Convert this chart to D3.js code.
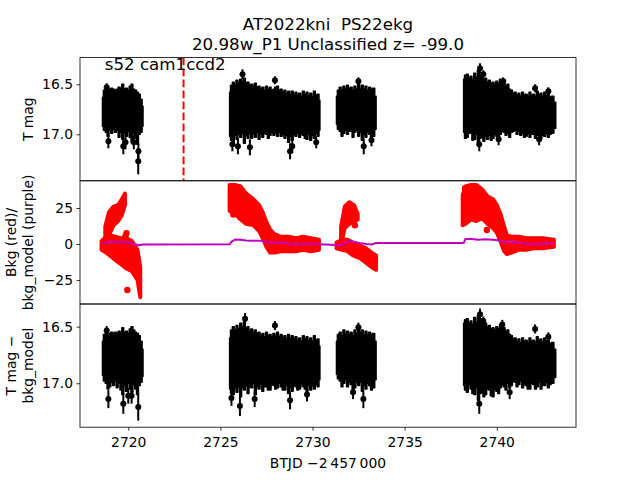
<!DOCTYPE html>
<html>
<head>
<meta charset="utf-8">
<script src="https://cdn.jsdelivr.net/npm/d3@7"></script>
<style>
  body { margin: 0; background: #fff; }
  svg text { font-family: "DejaVu Sans", sans-serif; fill: #000; white-space: pre; }
</style>
</head>
<body>
<svg id="lightcurve" width="640" height="480"></svg>
<script>
// ---- values ----
const titleLines = ["AT2022kni  PS22ekg", "20.98w_P1 Unclassified z= -99.0"];
const sectorLabel = "s52 cam1ccd2";
const xTicks = [2720, 2725, 2730, 2735, 2740];
const magTicks = [16.5, 17.0];
const bkgTicks = [25, 0, -25];
const markTime = 2723.0;

// T mag clouds, [btjd, bright edge, faint edge]
const magTopA = [
  [2718.6, 16.63, 16.92], [2718.7, 16.56, 16.96], [2718.8, 16.52, 16.98], [2718.9, 16.55, 17.02],
  [2719.0, 16.55, 16.96], [2719.1, 16.54, 16.99], [2719.2, 16.55, 16.95], [2719.3, 16.56, 16.98],
  [2719.4, 16.55, 16.96], [2719.5, 16.53, 17.03], [2719.6, 16.54, 16.98], [2719.7, 16.50, 17.05],
  [2719.8, 16.55, 16.99], [2719.9, 16.54, 17.02], [2720.0, 16.56, 16.97], [2720.1, 16.52, 17.03],
  [2720.2, 16.50, 17.08], [2720.3, 16.55, 16.99], [2720.4, 16.56, 17.04], [2720.5, 16.58, 17.10],
  [2720.6, 16.60, 17.00], [2720.7, 16.65, 16.98], [2720.8, 16.72, 16.92]
];
const magTopB = [
  [2725.5, 16.58, 17.02], [2725.6, 16.51, 17.06], [2725.7, 16.48, 17.08], [2725.8, 16.50, 17.01],
  [2725.9, 16.46, 17.05], [2726.0, 16.49, 17.00], [2726.1, 16.45, 17.03], [2726.2, 16.47, 16.99],
  [2726.3, 16.44, 17.09], [2726.4, 16.48, 17.01], [2726.5, 16.48, 17.04], [2726.6, 16.51, 16.99],
  [2726.7, 16.50, 17.04], [2726.8, 16.52, 17.00], [2726.9, 16.49, 17.03], [2727.0, 16.53, 16.98],
  [2727.1, 16.52, 17.05], [2727.2, 16.55, 17.00], [2727.3, 16.53, 17.03], [2727.4, 16.56, 16.99],
  [2727.5, 16.52, 17.00], [2727.6, 16.55, 17.04], [2727.7, 16.53, 17.01], [2727.8, 16.56, 16.98],
  [2727.9, 16.55, 17.01], [2728.0, 16.53, 16.99], [2728.1, 16.52, 17.02], [2728.2, 16.56, 16.98],
  [2728.3, 16.55, 17.02], [2728.4, 16.58, 17.00], [2728.5, 16.56, 17.04], [2728.6, 16.59, 17.01],
  [2728.7, 16.57, 17.08], [2728.8, 16.60, 17.02], [2728.9, 16.57, 17.06], [2729.0, 16.60, 17.00],
  [2729.1, 16.58, 17.02], [2729.2, 16.61, 16.99], [2729.3, 16.59, 17.03], [2729.4, 16.62, 17.00],
  [2729.5, 16.57, 17.01], [2729.6, 16.60, 17.04], [2729.7, 16.58, 17.05], [2729.8, 16.61, 17.00],
  [2729.9, 16.59, 17.06], [2730.0, 16.62, 17.01], [2730.1, 16.57, 17.04], [2730.2, 16.61, 16.99],
  [2730.3, 16.60, 17.02], [2730.4, 16.66, 16.96]
];
const magTopC = [
  [2731.3, 16.62, 16.90], [2731.4, 16.56, 16.95], [2731.5, 16.53, 16.97], [2731.6, 16.56, 17.02],
  [2731.7, 16.52, 16.99], [2731.8, 16.55, 16.96], [2731.9, 16.51, 17.00], [2732.0, 16.54, 16.97],
  [2732.1, 16.53, 16.97], [2732.2, 16.56, 17.03], [2732.3, 16.52, 16.98], [2732.4, 16.55, 16.96],
  [2732.5, 16.49, 17.02], [2732.6, 16.54, 16.98], [2732.7, 16.51, 17.06], [2732.8, 16.55, 17.00],
  [2732.9, 16.52, 17.03], [2733.0, 16.56, 16.98], [2733.1, 16.53, 17.00], [2733.2, 16.55, 17.04],
  [2733.3, 16.54, 17.02], [2733.45, 16.62, 16.95]
];
const magTopD = [
  [2738.2, 16.45, 16.98], [2738.3, 16.41, 17.04], [2738.4, 16.40, 17.03], [2738.5, 16.44, 16.99],
  [2738.6, 16.42, 16.99], [2738.7, 16.45, 17.06], [2738.8, 16.39, 17.05], [2738.9, 16.43, 17.00],
  [2739.0, 16.36, 17.08], [2739.1, 16.41, 17.04], [2739.2, 16.40, 17.03], [2739.3, 16.45, 17.07],
  [2739.4, 16.44, 17.02], [2739.5, 16.48, 17.05], [2739.6, 16.46, 17.01], [2739.7, 16.49, 17.06],
  [2739.8, 16.48, 17.04], [2739.9, 16.50, 17.00], [2740.0, 16.47, 17.02], [2740.1, 16.49, 17.05],
  [2740.2, 16.45, 17.00], [2740.3, 16.49, 16.97], [2740.4, 16.48, 16.98], [2740.5, 16.52, 17.01],
  [2740.6, 16.50, 16.99], [2740.7, 16.55, 17.03], [2740.8, 16.56, 16.98], [2740.9, 16.59, 16.97],
  [2741.0, 16.58, 16.96], [2741.1, 16.61, 17.00], [2741.2, 16.59, 16.97], [2741.3, 16.62, 17.01],
  [2741.4, 16.58, 16.99], [2741.5, 16.61, 17.03], [2741.6, 16.60, 17.02], [2741.7, 16.62, 16.99],
  [2741.8, 16.58, 17.03], [2741.9, 16.61, 17.00], [2742.0, 16.60, 17.00], [2742.1, 16.62, 17.04],
  [2742.2, 16.57, 17.01], [2742.3, 16.60, 16.98], [2742.4, 16.59, 17.04], [2742.5, 16.62, 17.01],
  [2742.6, 16.58, 17.02], [2742.7, 16.61, 16.99], [2742.8, 16.60, 17.03], [2742.9, 16.63, 17.00],
  [2743.0, 16.62, 16.99], [2743.2, 16.68, 16.94]
];
// single points standing out of the clouds, [btjd, mag, err]
const magTopPoints = [
  [2718.83, 16.53, 0.04], [2718.92, 17.07, 0.07], [2719.73, 17.12, 0.08], [2719.85, 17.08, 0.07],
  [2720.3, 17.08, 0.07], [2720.54, 17.27, 0.13], [2720.55, 17.17, 0.08],
  [2725.65, 17.10, 0.07], [2725.95, 17.12, 0.08], [2726.2, 16.40, 0.05], [2726.6, 17.13, 0.08],
  [2727.96, 16.46, 0.04], [2728.78, 17.17, 0.08], [2728.9, 17.12, 0.07], [2730.2, 17.08, 0.06],
  [2732.49, 16.47, 0.04], [2732.78, 17.12, 0.08], [2733.2, 17.06, 0.06],
  [2739.09, 16.34, 0.05], [2739.27, 16.40, 0.04], [2739.05, 17.10, 0.07], [2740.1, 17.05, 0.06],
  [2740.35, 16.47, 0.04], [2742.08, 16.54, 0.04], [2742.8, 16.57, 0.04], [2742.3, 17.05, 0.06]
];

// background flux clouds, [btjd, upper edge, lower edge]
const bkgA = [
  [2718.55, 2, -4], [2718.8, 5, -6], [2719.0, 6, -8], [2719.3, 5, -11], [2719.6, 4, -14],
  [2719.9, 4, -17], [2720.2, 2, -19], [2720.5, -4, -25], [2720.65, -16, -37]
];
const bkgAFlare = [
  [2718.75, 12, 0], [2718.95, 22, 6], [2719.2, 26, 13], [2719.45, 27, 16], [2719.65, 31, 20], [2719.82, 35, 27]
];
const bkgB = [
  [2725.5, 41, 23], [2725.8, 41, 21], [2726.1, 40, 17], [2726.4, 35, 14], [2726.8, 31, 13],
  [2727.1, 27, 9], [2727.3, 22, 4], [2727.5, 15, -2], [2727.7, 10, -6], [2727.9, 7, -6],
  [2728.3, 5, -5], [2728.7, 5, -5], [2729.1, 4, -5], [2729.5, 5, -4], [2729.9, 4, -5], [2730.35, 3, -4]
];
const bkgC = [
  [2731.3, 1, -3], [2731.6, 3, -4], [2731.9, 3, -5], [2732.2, 1, -8], [2732.6, -1, -10],
  [2732.9, -3, -13], [2733.2, -6, -16], [2733.45, -8, -18]
];
const bkgCFlare = [
  [2731.55, 12, 0], [2731.75, 26, 11], [2732.0, 29, 14], [2732.25, 27, 16], [2732.45, 21, 17]
];
const bkgD = [
  [2738.15, 34, 13], [2738.3, 40, 14], [2738.6, 41, 17], [2738.9, 41, 16], [2739.2, 38, 18],
  [2739.5, 33, 14], [2739.8, 31, 11], [2740.0, 27, 8], [2740.2, 21, 2], [2740.4, 12, -5],
  [2740.55, 6, -7], [2740.8, 5, -6], [2741.2, 5, -4], [2741.6, 4, -4], [2742.0, 4, -3],
  [2742.5, 4, -3], [2743.1, 3, -2]
];
const bkgPoints = [
  [2719.9, 7.5], [2719.85, 5.5], [2719.95, -32], [2725.7, 20.5], [2732.3, 13],
  [2738.28, 38.7], [2739.46, 9.7]
];

// bkg_model curve, [btjd, value]
const modelA = [
  [2718.6, 0.3], [2718.9, 1.2], [2719.2, 1.6], [2719.6, 1.3], [2720.0, 0.9], [2720.3, 0.2],
  [2720.55, -0.8], [2720.8, -0.3]
];
const modelB = [
  [2725.5, -0.2], [2725.6, 1.5], [2725.8, 3.1], [2726.1, 3.0], [2726.4, 2.4], [2726.8, 2.2],
  [2727.2, 2.3], [2727.5, 1.4], [2727.7, 0.8], [2728.0, 0.9], [2728.3, 1.2], [2728.6, 0.5],
  [2728.9, -0.6], [2729.2, 0.0], [2729.6, 0.1], [2730.0, 0.1], [2730.4, -0.2]
];
const modelC = [
  [2731.3, -0.7], [2731.6, -0.5], [2731.8, 0.8], [2732.0, 2.1], [2732.3, 1.4], [2732.6, 0.6],
  [2732.95, 0.0], [2733.2, -0.3], [2733.45, 0.7]
];
const modelD = [
  [2738.2, 0.7], [2738.3, 3.4], [2738.6, 3.5], [2739.0, 3.0], [2739.4, 3.3], [2739.8, 2.9],
  [2740.2, 2.4], [2740.5, 1.4], [2741.0, 1.4], [2741.4, 0.6], [2741.7, -0.2], [2742.2, 0.0],
  [2742.7, 0.4], [2743.1, 0.3]
];

// T mag - bkg_model clouds, [btjd, bright edge, faint edge]
const magBotA = [
  [2718.6, 16.63, 16.93], [2718.7, 16.57, 16.98], [2718.8, 16.55, 17.00], [2718.9, 16.57, 17.05],
  [2719.0, 16.56, 17.03], [2719.1, 16.55, 16.99], [2719.2, 16.56, 17.02], [2719.3, 16.55, 16.98],
  [2719.4, 16.56, 17.04], [2719.5, 16.54, 17.00], [2719.6, 16.55, 17.06], [2719.7, 16.51, 17.10],
  [2719.8, 16.55, 17.02], [2719.9, 16.54, 17.07], [2720.0, 16.56, 17.00], [2720.1, 16.52, 17.05],
  [2720.2, 16.50, 17.08], [2720.3, 16.53, 17.01], [2720.4, 16.55, 17.05], [2720.5, 16.56, 17.10],
  [2720.6, 16.58, 17.02], [2720.7, 16.63, 16.99], [2720.8, 16.70, 16.94]
];
const magBotB = [
  [2725.5, 16.60, 17.05], [2725.6, 16.53, 17.09], [2725.7, 16.50, 17.10], [2725.8, 16.53, 17.04],
  [2725.9, 16.49, 17.08], [2726.0, 16.52, 17.03], [2726.1, 16.47, 17.12], [2726.2, 16.50, 17.04],
  [2726.3, 16.46, 17.06], [2726.4, 16.51, 17.02], [2726.5, 16.50, 17.09], [2726.6, 16.54, 17.03],
  [2726.7, 16.52, 17.04], [2726.8, 16.55, 17.00], [2726.9, 16.53, 17.10], [2727.0, 16.56, 17.03],
  [2727.1, 16.55, 17.05], [2727.2, 16.58, 17.01], [2727.3, 16.56, 17.07], [2727.4, 16.59, 17.03],
  [2727.5, 16.55, 17.03], [2727.6, 16.58, 17.06], [2727.7, 16.57, 17.06], [2727.8, 16.59, 17.01],
  [2727.9, 16.56, 17.02], [2728.0, 16.58, 17.05], [2728.1, 16.55, 17.04], [2728.2, 16.59, 17.00],
  [2728.3, 16.57, 17.03], [2728.4, 16.60, 17.06], [2728.5, 16.58, 17.06], [2728.6, 16.61, 17.02],
  [2728.7, 16.57, 17.09], [2728.8, 16.60, 17.04], [2728.9, 16.58, 17.07], [2729.0, 16.61, 17.02],
  [2729.1, 16.59, 17.03], [2729.2, 16.62, 17.06], [2729.3, 16.60, 17.05], [2729.4, 16.63, 17.01],
  [2729.5, 16.58, 17.03], [2729.6, 16.61, 17.05], [2729.7, 16.59, 17.08], [2729.8, 16.62, 17.02],
  [2729.9, 16.60, 17.06], [2730.0, 16.63, 17.02], [2730.1, 16.58, 17.05], [2730.2, 16.62, 17.01],
  [2730.3, 16.61, 17.03], [2730.4, 16.67, 16.97]
];
const magBotC = [
  [2731.3, 16.63, 16.92], [2731.4, 16.57, 16.96], [2731.5, 16.55, 16.98], [2731.6, 16.58, 17.03],
  [2731.7, 16.53, 17.00], [2731.8, 16.56, 16.97], [2731.9, 16.54, 17.03], [2732.0, 16.57, 16.99],
  [2732.1, 16.55, 17.01], [2732.2, 16.58, 17.06], [2732.3, 16.53, 17.04], [2732.4, 16.56, 16.99],
  [2732.5, 16.51, 17.02], [2732.6, 16.55, 16.99], [2732.7, 16.53, 17.07], [2732.8, 16.57, 17.02],
  [2732.9, 16.54, 17.05], [2733.0, 16.57, 17.00], [2733.1, 16.55, 17.02], [2733.2, 16.57, 17.06],
  [2733.3, 16.56, 17.04], [2733.45, 16.63, 16.97]
];
const magBotD = [
  [2738.2, 16.47, 17.02], [2738.3, 16.44, 17.06], [2738.4, 16.43, 17.08], [2738.5, 16.47, 17.01],
  [2738.6, 16.45, 17.05], [2738.7, 16.48, 17.09], [2738.8, 16.42, 17.10], [2738.9, 16.46, 17.04],
  [2739.0, 16.40, 17.15], [2739.1, 16.44, 17.09], [2739.2, 16.43, 17.08], [2739.3, 16.47, 17.12],
  [2739.4, 16.47, 17.10], [2739.5, 16.50, 17.05], [2739.6, 16.49, 17.06], [2739.7, 16.52, 17.11],
  [2739.8, 16.51, 17.12], [2739.9, 16.53, 17.05], [2740.0, 16.50, 17.07], [2740.1, 16.52, 17.09],
  [2740.2, 16.48, 17.04], [2740.3, 16.51, 17.01], [2740.4, 16.51, 17.03], [2740.5, 16.54, 17.06],
  [2740.6, 16.53, 17.00], [2740.7, 16.57, 17.04], [2740.8, 16.58, 17.02], [2740.9, 16.61, 16.98],
  [2741.0, 16.60, 16.99], [2741.1, 16.63, 17.03], [2741.2, 16.61, 17.01], [2741.3, 16.64, 16.98],
  [2741.4, 16.60, 17.04], [2741.5, 16.63, 17.01], [2741.6, 16.62, 17.02], [2741.7, 16.64, 17.05],
  [2741.8, 16.60, 17.05], [2741.9, 16.63, 17.00], [2742.0, 16.62, 17.01], [2742.1, 16.64, 17.05],
  [2742.2, 16.59, 17.03], [2742.3, 16.62, 16.99], [2742.4, 16.61, 17.05], [2742.5, 16.64, 17.02],
  [2742.6, 16.60, 17.02], [2742.7, 16.63, 16.99], [2742.8, 16.62, 17.04], [2742.9, 16.65, 17.01],
  [2743.0, 16.64, 17.00], [2743.2, 16.70, 16.95]
];
const magBotPoints = [
  [2718.83, 16.535, 0.04], [2718.92, 17.14, 0.08], [2719.73, 17.18, 0.09], [2720.18, 17.11, 0.07],
  [2720.54, 17.21, 0.12], [2720.0, 17.11, 0.07],
  [2725.6, 17.13, 0.07], [2726.06, 17.20, 0.09], [2726.34, 16.43, 0.05], [2726.86, 17.14, 0.07],
  [2727.96, 16.49, 0.04], [2728.78, 17.15, 0.08], [2729.7, 17.10, 0.06],
  [2732.49, 16.505, 0.04], [2732.76, 17.14, 0.08], [2732.2, 17.08, 0.06],
  [2739.09, 16.39, 0.05], [2739.05, 17.18, 0.09], [2739.27, 16.45, 0.04], [2740.3, 16.48, 0.04],
  [2742.08, 16.52, 0.04], [2742.8, 16.59, 0.04], [2740.7, 17.08, 0.06]
];

// ---- drawing ----
const svg = d3.select("#lightcurve");
const left = 80, right = 576;
const panelTop = [57.6, 180.8, 304];
const panelH = 123.2;

const x = d3.scaleLinear().domain([2717.38, 2744.30]).range([left, right]);
const yTop = d3.scaleLinear().domain([16.233, 17.465]).range([panelTop[0], panelTop[0] + panelH]);
const yMid = d3.scaleLinear().domain([43.9, -41.7]).range([panelTop[1], panelTop[1] + panelH]);
const yBot = d3.scaleLinear().domain([16.30, 17.388]).range([panelTop[2], panelTop[2] + panelH]);

function cloud(y, rows, colour, width, curve) {
  svg.append("path")
    .datum(rows)
    .attr("d", d3.area().curve(curve).x(d => x(d[0])).y0(d => y(d[2])).y1(d => y(d[1])))
    .attr("fill", colour)
    .attr("stroke", colour)
    .attr("stroke-width", width)
    .attr("stroke-linejoin", "round");
}

function errPoints(y, rows) {
  let g = svg.append("g");
  g.selectAll("line").data(rows).enter().append("line")
    .attr("x1", d => x(d[0])).attr("x2", d => x(d[0]))
    .attr("y1", d => y(d[1] - d[2])).attr("y2", d => y(d[1] + d[2]))
    .attr("stroke", "black").attr("stroke-width", 2);
  g.selectAll("circle").data(rows).enter().append("circle")
    .attr("cx", d => x(d[0])).attr("cy", d => y(d[1])).attr("r", 3)
    .attr("fill", "black");
}

// top panel
[magTopA, magTopB, magTopC, magTopD].forEach(s => cloud(yTop, s, "black", 1.5, d3.curveStep));
errPoints(yTop, magTopPoints);
svg.append("line")
  .attr("x1", x(markTime)).attr("x2", x(markTime))
  .attr("y1", panelTop[0]).attr("y2", panelTop[0] + panelH)
  .attr("stroke", "red").attr("stroke-width", 2).attr("stroke-dasharray", "7.7,3.3");

// middle panel
[bkgA, bkgAFlare, bkgB, bkgC, bkgCFlare, bkgD].forEach(s => cloud(yMid, s, "red", 4, d3.curveLinear));
svg.append("g").selectAll("circle").data(bkgPoints).enter().append("circle")
  .attr("cx", d => x(d[0])).attr("cy", d => yMid(d[1])).attr("r", 3.2).attr("fill", "red");
svg.append("path")
  .datum(modelA.concat(modelB, modelC, modelD))
  .attr("d", d3.line().x(d => x(d[0])).y(d => yMid(d[1])))
  .attr("fill", "none").attr("stroke", "#bf00bf").attr("stroke-width", 2);

// bottom panel
[magBotA, magBotB, magBotC, magBotD].forEach(s => cloud(yBot, s, "black", 1.5, d3.curveStep));
errPoints(yBot, magBotPoints);

// axes
function yAxis(y, ticks, fmt) {
  let g = svg.append("g")
    .attr("transform", "translate(" + left + ",0)")
    .call(d3.axisLeft(y).tickValues(ticks).tickSize(3.5).tickPadding(3.5).tickSizeOuter(0).tickFormat(fmt))
    .attr("font-family", "DejaVu Sans").attr("font-size", 13.9);
  g.select(".domain").remove();
  g.selectAll("line").attr("stroke-width", 0.8);
}
yAxis(yTop, magTicks, d3.format(".1f"));
yAxis(yMid, bkgTicks, d => d < 0 ? "\u2212" + Math.abs(d) : d);
yAxis(yBot, magTicks, d3.format(".1f"));

let xg = svg.append("g")
  .attr("transform", "translate(0," + (panelTop[2] + panelH) + ")")
  .call(d3.axisBottom(x).tickValues(xTicks).tickSize(3.5).tickSizeOuter(0).tickFormat(d3.format("d")))
  .attr("font-family", "DejaVu Sans").attr("font-size", 13.9);
xg.select(".domain").remove();
xg.selectAll("line").attr("stroke-width", 0.8);
xg.selectAll("text").attr("y", 19.8).attr("dy", 0);

panelTop.forEach(t => {
  svg.append("rect")
    .attr("x", left).attr("y", t).attr("width", right - left).attr("height", panelH)
    .attr("fill", "none").attr("stroke", "black").attr("stroke-width", 0.8);
});

// text
const midX = (left + right) / 2;
svg.append("text").attr("x", midX).attr("y", 29.7).attr("text-anchor", "middle")
  .attr("font-size", 16.67).text(titleLines[0]);
svg.append("text").attr("x", midX).attr("y", 49.7).attr("text-anchor", "middle")
  .attr("font-size", 16.67).text(titleLines[1]);
svg.append("text").attr("x", left + 0.05 * (right - left)).attr("y", panelTop[0] + 0.1 * panelH + 0.4)
  .attr("font-size", 16.67).text(sectorLabel);

function yLabel(lines, cy) {
  const base = 32.5;
  lines.forEach((s, i) => {
    const bx = base - (lines.length - 1 - i) * 16.7;
    svg.append("text")
      .attr("transform", "translate(" + bx + "," + cy + ") rotate(-90)")
      .attr("text-anchor", "middle").attr("font-size", 13.9).text(s);
  });
}
yLabel(["T mag"], panelTop[0] + panelH / 2);
yLabel(["Bkg (red)/", "bkg_model (purple)"], panelTop[1] + panelH / 2);
yLabel(["T mag \u2212", "bkg_model"], panelTop[2] + panelH / 2);

svg.append("text").attr("x", midX).attr("y", 468).attr("text-anchor", "middle")
  .attr("font-size", 13.9).text("BTJD \u22122\u2009457\u2009000");
</script>
</body>
</html>
